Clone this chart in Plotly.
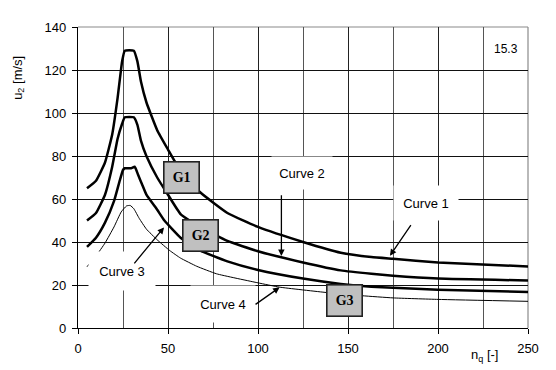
import plotly.graph_objects as go

# ---- data ----
x1 = [5, 10, 15, 19, 22, 24.5, 26, 31, 33, 35, 38, 44, 50, 57, 68, 83, 100, 125, 146, 163, 175, 200, 250]
curve1 = [65, 68.5, 77, 90, 107, 124, 129, 129, 124, 114.5, 105, 92, 83, 73, 63, 53.5, 47, 40, 35, 33, 32.2, 30.5, 28.6]

x2 = [5, 10, 15, 19, 22, 24.5, 26, 31, 33, 35, 38, 44, 50, 57, 68, 83, 100, 125, 146, 163, 175, 200, 250]
curve2 = [50, 53.5, 62, 75, 88, 95, 98, 98, 94.5, 87, 80, 70, 62, 53, 47, 40.5, 35.7, 30.5, 26.8, 25.2, 24.3, 23, 22.1]

x3 = [5, 10, 15, 20, 23, 25, 26, 29.5, 31.5, 33.5, 35.5, 38, 44, 48, 57, 68, 83, 100, 125, 146, 163, 175, 200, 250]
curve3 = [37.7, 42, 49, 59, 68, 73.5, 74.3, 74.3, 75, 71, 67, 62, 55, 50, 42, 36, 31, 27, 23, 20.5, 19.2, 18.7, 17.8, 16.8]

x4 = [5, 10, 15, 20, 24, 27, 29, 31, 34, 38, 44, 51, 57, 66, 77, 100, 112, 138, 158, 175, 200, 250]
curve4 = [28.5, 33.5, 39.5, 47, 54, 56.8, 57, 55.5, 51, 46, 41, 36, 32.5, 28.7, 25.2, 21, 19, 16.5, 15, 14, 13.3, 12.4]

x_ticks = [0, 50, 100, 150, 200, 250]
y_ticks = [0, 20, 40, 60, 80, 100, 120, 140]

FONT = "Liberation Sans, Arial, sans-serif"

fig = go.Figure()
for xs, ys, w in [(x1, curve1, 2.5), (x2, curve2, 2.5), (x3, curve3, 2.5), (x4, curve4, 1.0)]:
    fig.add_trace(go.Scatter(x=xs, y=ys, mode="lines",
                             line=dict(color="black", width=w, shape="spline", smoothing=0.4),
                             showlegend=False, hoverinfo="skip"))

# text labels with white background
labels = [
    ("Curve 1", 193.5, 58.2, 62, 32),
    ("Curve 2", 124.7, 72.0, 58, 30),
    ("Curve 3", 24.2, 26.5, 64, 36),
    ("Curve 4", 80.5, 11.0, 62, 34),
]
for t, xx, yy, w, h in labels:
    fig.add_annotation(x=xx, y=yy, text=t, showarrow=False, bgcolor="white",
                       width=w, height=h, borderpad=1,
                       font=dict(family=FONT, size=13, color="black"))

# arrows (tail -> tip, data coordinates)
arrows = [
    (173.3, 33.6, 185.5, 48.5),
    (113.0, 33.5, 113.0, 62.5),
    (47.8, 46.8, 30.6, 29.4),
    (112.0, 18.9, 97.8, 10.5),
]
for xt, yt, xa, ya in arrows:
    fig.add_annotation(x=xt, y=yt, ax=xa, ay=ya, axref="x", ayref="y", text="",
                       showarrow=True, arrowhead=2, arrowsize=1, arrowwidth=1.3,
                       arrowcolor="black", standoff=0, startstandoff=0)

# G boxes
for t, xx, yy in [("G1", 57.3, 70.0), ("G2", 67.8, 43.0), ("G3", 148.0, 13.0)]:
    fig.add_annotation(x=xx, y=yy, text="<b>" + t + "</b>", showarrow=False,
                       bgcolor="#c0c0c0", bordercolor="#222222", borderwidth=1.6,
                       width=32, height=28, borderpad=1,
                       font=dict(family="Liberation Serif, Times New Roman, serif", size=14, color="black"))

fig.add_annotation(x=238, y=130, text="15.3", showarrow=False,
                   font=dict(family=FONT, size=12, color="black"))

# axis titles
fig.add_annotation(xref="paper", yref="paper", x=-0.134, y=0.83, text="u<sub>2</sub> [m/s]",
                   textangle=-90, showarrow=False, xanchor="center", yanchor="middle",
                   font=dict(family=FONT, size=13, color="black"))
fig.add_annotation(xref="paper", yref="paper", x=0.904, y=-0.091, text="n<sub>q</sub> [-]",
                   showarrow=False, xanchor="center", yanchor="middle",
                   font=dict(family=FONT, size=13, color="black"))

# top and right frame lines (gray)
fig.add_shape(type="line", xref="paper", yref="paper", x0=0, x1=1, y0=1, y1=1,
              line=dict(color="#8a8a8a", width=1.2), layer="below")
fig.add_shape(type="line", xref="paper", yref="paper", x0=1, x1=1, y0=0, y1=1,
              line=dict(color="#8a8a8a", width=1.2), layer="below")

fig.update_xaxes(range=[0, 250], tickvals=x_ticks, ticks="outside", ticklen=5, tickcolor="black",
                 ticklabelstandoff=3,
                 showline=True, linecolor="black", linewidth=1.2,
                 showgrid=True, gridcolor="#222222", gridwidth=1, zeroline=False,
                 minor=dict(dtick=25, showgrid=True, gridcolor="#555555", gridwidth=1, ticks=""),
                 tickfont=dict(family=FONT, size=13, color="black"))
fig.update_yaxes(range=[0, 140], tickvals=y_ticks, ticks="outside", ticklen=5, tickcolor="black",
                 ticklabelstandoff=3,
                 showline=True, linecolor="black", linewidth=1.2,
                 showgrid=True, gridcolor="#111111", gridwidth=1, zeroline=False,
                 tickfont=dict(family=FONT, size=13, color="black"))

# page body adds an 8px offset, so margins are shifted to keep the plot area in place
fig.update_layout(width=556, height=370, margin=dict(l=70, r=36, t=12, b=50),
                  paper_bgcolor="white", plot_bgcolor="white", showlegend=False)

fig.write_html("out.html")
